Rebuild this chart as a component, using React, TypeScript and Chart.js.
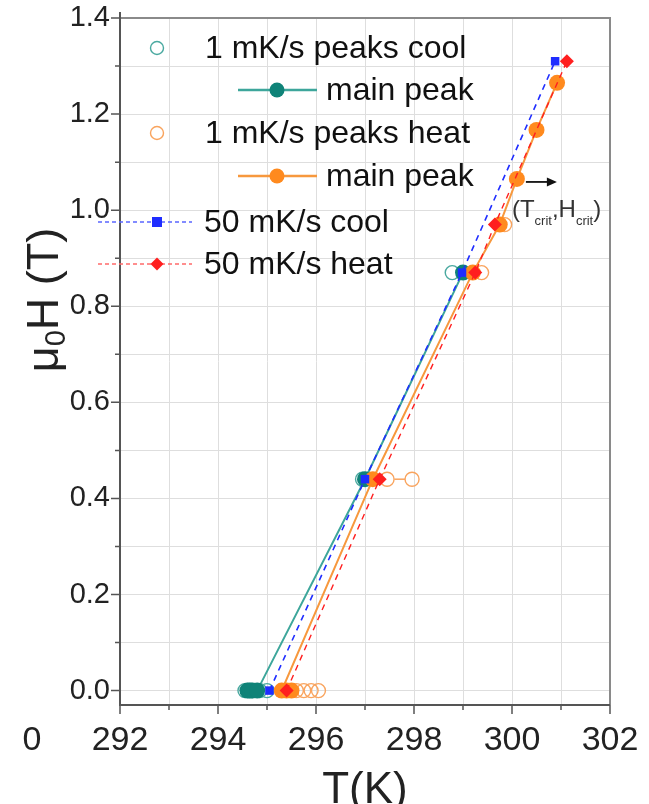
import React, { useEffect, useRef } from 'react';
import { Chart, registerables } from 'chart.js';
Chart.register(...registerables);

// ---- data (T in K, mu0H in T) ----
const coolPeaksT = [294.55, 294.7, 294.85, 295.0, 296.95, 298.78];
const coolPeaksH = [0, 0, 0, 0, 0.44, 0.87];
const coolMainT = [294.6, 294.65, 294.7, 294.8, 297.0, 299.0];
const coolMainH = [0, 0, 0, 0, 0.44, 0.87];
const heatPeaksT = [295.6, 295.75, 295.9, 296.05, 297.45, 297.96, 299.38, 299.85];
const heatPeaksH = [0, 0, 0, 0, 0.44, 0.44, 0.87, 0.97];
const heatLinkT = [297.6, 297.82];
const heatLinkH = [0.44, 0.44];
const heatMainT = [295.5, 295.4, 295.3, 297.16, 299.2, 299.75, 300.1, 300.5, 300.92];
const heatMainH = [0, 0, 0, 0.44, 0.87, 0.97, 1.065, 1.167, 1.265];
const fastCoolT = [295.05, 297.0, 298.98, 300.88];
const fastCoolH = [0, 0.44, 0.87, 1.31];
const fastHeatT = [295.4, 297.3, 299.25, 299.65, 301.12];
const fastHeatH = [0, 0.44, 0.87, 0.97, 1.31];

const xMajor = [292, 294, 296, 298, 300, 302];
const xMinor = [293, 295, 297, 299, 301];
const xLabels = ['292', '294', '296', '298', '300', '302'];
const yMajor = [0, 0.2, 0.4, 0.6, 0.8, 1.0, 1.2, 1.4];
const yMinor = [0.1, 0.3, 0.5, 0.7, 0.9, 1.1, 1.3];
const yLabels = ['0.0', '0.2', '0.4', '0.6', '0.8', '1.0', '1.2', '1.4'];

const legendLabels = [
  '1 mK/s peaks cool',
  'main peak',
  '1 mK/s peaks heat',
  'main peak',
  '50 mK/s cool',
  '50 mK/s heat',
];

const TEAL = '#0f8378';
const TEAL_LINE = '#3da69b';
const TEAL_OPEN = '#4aa9a0';
const ORANGE = '#ff8a1e';
const ORANGE_LINE = '#f7983d';
const ORANGE_OPEN = '#f9a45e';
const BLUE = '#1f2dff';
const RED = '#ff1f1f';
const FONT = '"Liberation Sans", Arial, sans-serif';

const pts = (xs: number[], ys: number[]) => xs.map((x, i) => ({ x, y: ys[i] }));

function drawMarker(ctx: CanvasRenderingContext2D, kind: string, x: number, y: number, r: number, color: string) {
  ctx.save();
  ctx.beginPath();
  if (kind === 'open') {
    ctx.arc(x, y, r, 0, Math.PI * 2);
    ctx.lineWidth = 1.4;
    ctx.strokeStyle = color;
    ctx.stroke();
  } else if (kind === 'circle') {
    ctx.arc(x, y, r, 0, Math.PI * 2);
    ctx.fillStyle = color;
    ctx.fill();
  } else if (kind === 'rect') {
    ctx.fillStyle = color;
    ctx.fillRect(x - r, y - r, 2 * r, 2 * r);
  } else if (kind === 'diamond') {
    ctx.moveTo(x, y - r);
    ctx.lineTo(x + r, y);
    ctx.lineTo(x, y + r);
    ctx.lineTo(x - r, y);
    ctx.closePath();
    ctx.fillStyle = color;
    ctx.fill();
  }
  ctx.restore();
}

const customPlugin = {
  id: 'customDecor',
  beforeDatasetsDraw(chart: any) {
    const ctx: CanvasRenderingContext2D = chart.ctx;
    const xs = chart.scales.x;
    const ys = chart.scales.y;
    const a = chart.chartArea;
    ctx.save();
    // frame
    ctx.strokeStyle = '#8a8a8a';
    ctx.lineWidth = 2;
    ctx.beginPath();
    ctx.moveTo(a.left, a.top);
    ctx.lineTo(a.right, a.top);
    ctx.lineTo(a.right, a.bottom);
    ctx.stroke();
    ctx.strokeStyle = '#555';
    ctx.beginPath();
    ctx.moveTo(a.left, a.top - 6);
    ctx.lineTo(a.left, a.bottom);
    ctx.lineTo(a.right, a.bottom);
    ctx.stroke();
    // ticks
    ctx.lineWidth = 1.5;
    ctx.strokeStyle = '#555';
    ctx.beginPath();
    yMajor.forEach((v) => {
      const p = ys.getPixelForValue(v);
      ctx.moveTo(a.left - 9, p);
      ctx.lineTo(a.left, p);
    });
    yMinor.forEach((v) => {
      const p = ys.getPixelForValue(v);
      ctx.moveTo(a.left - 5, p);
      ctx.lineTo(a.left, p);
    });
    xMajor.forEach((v) => {
      const p = xs.getPixelForValue(v);
      ctx.moveTo(p, a.bottom);
      ctx.lineTo(p, a.bottom + 9);
    });
    xMinor.forEach((v) => {
      const p = xs.getPixelForValue(v);
      ctx.moveTo(p, a.bottom);
      ctx.lineTo(p, a.bottom + 5);
    });
    ctx.stroke();
    // tick labels
    ctx.fillStyle = '#222';
    ctx.font = `29px ${FONT}`;
    ctx.textAlign = 'right';
    ctx.textBaseline = 'middle';
    yMajor.forEach((v, i) => {
      ctx.fillText(yLabels[i], a.left - 10, ys.getPixelForValue(v));
    });
    ctx.font = `34px ${FONT}`;
    ctx.textAlign = 'center';
    ctx.textBaseline = 'middle';
    xMajor.forEach((v, i) => {
      ctx.fillText(xLabels[i], xs.getPixelForValue(v), a.bottom + 36);
    });
    ctx.fillText('0', 32, a.bottom + 36);
    // x title
    ctx.font = `44px ${FONT}`;
    ctx.fillText('T(K)', (a.left + a.right) / 2, a.bottom + 86);
    // y title (rotated, with subscript)
    ctx.save();
    ctx.translate(44, 300);
    ctx.rotate(-Math.PI / 2);
    ctx.textAlign = 'left';
    ctx.textBaseline = 'alphabetic';
    const big = `45px ${FONT}`;
    const small = `29px ${FONT}`;
    ctx.font = big;
    const wMu = ctx.measureText('\u03bc').width;
    const wRest = ctx.measureText('H (T)').width;
    ctx.font = small;
    const wSub = ctx.measureText('0').width;
    const total = wMu + wSub + wRest;
    let cx = -total / 2;
    const base = 14;
    ctx.font = big;
    ctx.fillText('\u03bc', cx, base);
    cx += wMu;
    ctx.font = small;
    ctx.fillText('0', cx, base + 7);
    cx += wSub;
    ctx.font = big;
    ctx.fillText('H (T)', cx, base);
    ctx.restore();
    ctx.restore();
  },
  afterDraw(chart: any) {
    const ctx: CanvasRenderingContext2D = chart.ctx;
    const xs = chart.scales.x;
    const ys = chart.scales.y;
    ctx.save();
    // legend
    ctx.font = `32px ${FONT}`;
    ctx.fillStyle = '#111';
    ctx.textAlign = 'left';
    ctx.textBaseline = 'middle';
    const rows = [48, 90, 133, 176, 222, 264];
    drawMarker(ctx, 'open', 157, rows[0], 6.5, TEAL_OPEN);
    ctx.fillText(legendLabels[0], 205, rows[0] + 1);
    ctx.strokeStyle = TEAL_LINE;
    ctx.lineWidth = 2.5;
    ctx.beginPath();
    ctx.moveTo(238, rows[1]);
    ctx.lineTo(317, rows[1]);
    ctx.stroke();
    drawMarker(ctx, 'circle', 277, rows[1], 7.5, TEAL);
    ctx.fillText(legendLabels[1], 326, rows[1] + 1);
    drawMarker(ctx, 'open', 157, rows[2], 6.5, ORANGE_OPEN);
    ctx.fillText(legendLabels[2], 205, rows[2] + 1);
    ctx.strokeStyle = ORANGE_LINE;
    ctx.beginPath();
    ctx.moveTo(238, rows[3]);
    ctx.lineTo(317, rows[3]);
    ctx.stroke();
    drawMarker(ctx, 'circle', 277, rows[3], 7.5, ORANGE);
    ctx.fillText(legendLabels[3], 326, rows[3] + 1);
    ctx.setLineDash([4, 3]);
    ctx.lineWidth = 1.3;
    ctx.strokeStyle = '#5a66ff';
    ctx.beginPath();
    ctx.moveTo(98, rows[4]);
    ctx.lineTo(192, rows[4]);
    ctx.stroke();
    ctx.strokeStyle = '#ff6a6a';
    ctx.beginPath();
    ctx.moveTo(98, rows[5]);
    ctx.lineTo(192, rows[5]);
    ctx.stroke();
    ctx.setLineDash([]);
    drawMarker(ctx, 'rect', 157, rows[4], 5, BLUE);
    drawMarker(ctx, 'diamond', 157, rows[5], 6.5, RED);
    ctx.fillText(legendLabels[4], 204, rows[4] + 1);
    ctx.fillText(legendLabels[5], 204, rows[5] + 1);

    // annotation: arrow + (T_crit, H_crit) anchored to the 1.065 T heat main peak
    const px = xs.getPixelForValue(heatMainT[6]);
    const py = ys.getPixelForValue(heatMainH[6]);
    ctx.strokeStyle = '#111';
    ctx.fillStyle = '#111';
    ctx.lineWidth = 1.8;
    ctx.beginPath();
    ctx.moveTo(px + 9, py + 3);
    ctx.lineTo(px + 32, py + 3);
    ctx.stroke();
    ctx.beginPath();
    ctx.moveTo(px + 40, py + 3);
    ctx.lineTo(px + 30, py - 1.5);
    ctx.lineTo(px + 30, py + 7.5);
    ctx.closePath();
    ctx.fill();
    ctx.textBaseline = 'alphabetic';
    let tx = px - 5;
    const tb = py + 38;
    const seg = (s: string, f: string, dy: number) => {
      ctx.font = f;
      ctx.fillText(s, tx, tb + dy);
      tx += ctx.measureText(s).width;
    };
    ctx.fillStyle = '#333';
    seg('(T', `24px ${FONT}`, 0);
    seg('crit', `13px ${FONT}`, 8);
    seg(',H', `24px ${FONT}`, 0);
    seg('crit', `13px ${FONT}`, 8);
    seg(')', `24px ${FONT}`, 0);
    ctx.restore();
  },
};

export default function App() {
  const ref = useRef<HTMLCanvasElement>(null);
  useEffect(() => {
    if (!ref.current) return;
    const chart = new Chart(ref.current, {
      type: 'scatter',
      data: {
        datasets: [
          {
            label: '1 mK/s peaks cool',
            data: pts(coolPeaksT, coolPeaksH),
            showLine: false,
            pointStyle: 'circle',
            pointRadius: 7,
            pointBorderWidth: 1.4,
            pointBorderColor: TEAL_OPEN,
            pointBackgroundColor: 'rgba(0,0,0,0)',
            order: 6,
          },
          {
            label: 'link',
            data: pts(heatLinkT, heatLinkH),
            showLine: true,
            borderColor: ORANGE_OPEN,
            borderWidth: 1.5,
            pointRadius: 0,
            order: 7,
          },
          {
            label: '1 mK/s peaks heat',
            data: pts(heatPeaksT, heatPeaksH),
            showLine: false,
            pointStyle: 'circle',
            pointRadius: 7,
            pointBorderWidth: 1.4,
            pointBorderColor: ORANGE_OPEN,
            pointBackgroundColor: 'rgba(0,0,0,0)',
            order: 5,
          },
          {
            label: 'main peak cool',
            data: pts(coolMainT, coolMainH),
            showLine: true,
            borderColor: TEAL_LINE,
            borderWidth: 2,
            pointStyle: 'circle',
            pointRadius: 8,
            pointBorderWidth: 0,
            pointBackgroundColor: TEAL,
            order: 4,
          },
          {
            label: 'main peak heat',
            data: pts(heatMainT, heatMainH),
            showLine: true,
            borderColor: ORANGE_LINE,
            borderWidth: 2,
            pointStyle: 'circle',
            pointRadius: 8,
            pointBorderWidth: 0,
            pointBackgroundColor: ORANGE,
            order: 3,
          },
          {
            label: '50 mK/s cool',
            data: pts(fastCoolT, fastCoolH),
            showLine: true,
            borderColor: BLUE,
            borderWidth: 1.6,
            borderDash: [6, 5],
            pointStyle: 'rect',
            pointRadius: 6,
            pointBorderWidth: 0,
            pointBackgroundColor: BLUE,
            order: 2,
          },
          {
            label: '50 mK/s heat',
            data: pts(fastHeatT, fastHeatH),
            showLine: true,
            borderColor: RED,
            borderWidth: 1.4,
            borderDash: [6, 5],
            pointStyle: 'rectRot',
            pointRadius: 7,
            pointBorderWidth: 0,
            pointBackgroundColor: RED,
            order: 1,
          },
        ],
      },
      options: {
        responsive: false,
        animation: false,
        layout: { padding: { top: 18, right: 39, left: 0, bottom: 0 } },
        plugins: { legend: { display: false }, tooltip: { enabled: false } },
        scales: {
          x: {
            type: 'linear',
            min: 292,
            max: 302,
            ticks: { display: false },
            border: { display: false },
            grid: { color: '#dedede', lineWidth: 1, drawTicks: false },
            afterBuildTicks: (s: any) => {
              s.ticks = [...xMajor, ...xMinor].sort((p, q) => p - q).map((v) => ({ value: v }));
            },
            afterFit: (s: any) => {
              s.height = 99;
            },
          },
          y: {
            type: 'linear',
            min: -0.03,
            max: 1.4,
            ticks: { display: false },
            border: { display: false },
            grid: { color: '#dedede', lineWidth: 1, drawTicks: false },
            afterBuildTicks: (s: any) => {
              s.ticks = [...yMajor, ...yMinor].sort((p, q) => p - q).map((v) => ({ value: v }));
            },
            afterFit: (s: any) => {
              s.width = 120;
            },
          },
        },
      },
      plugins: [customPlugin],
    });
    return () => chart.destroy();
  }, []);
  return (
    <div style={{ position: 'absolute', left: 0, top: 0, width: 649, height: 804, background: '#fff' }}>
      <canvas ref={ref} width={649} height={804} style={{ display: 'block' }} />
    </div>
  );
}
